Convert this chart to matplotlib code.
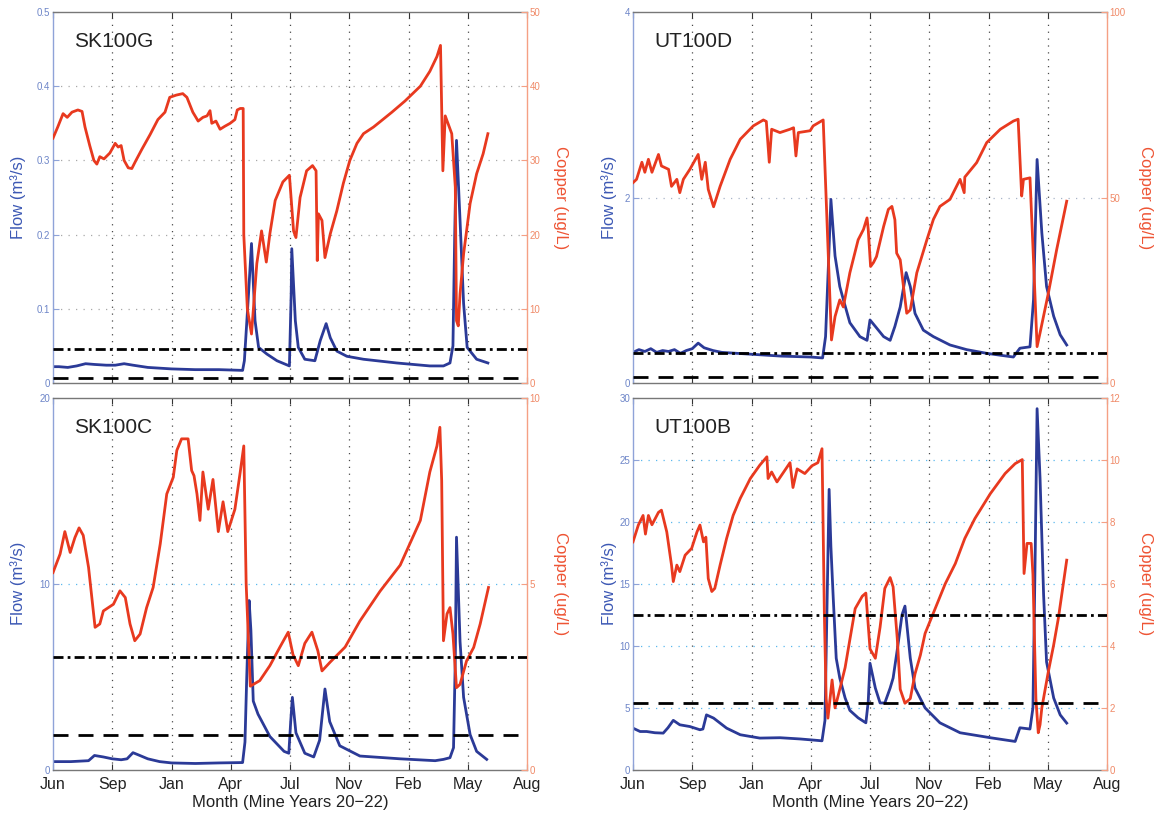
import matplotlib
matplotlib.use("Agg")
import matplotlib.pyplot as plt

plt.rcParams['font.family'] = ['Liberation Sans', 'DejaVu Sans']

# ---------------- data ----------------
month_labels = ['Jun', 'Sep', 'Jan', 'Apr', 'Jul', 'Nov', 'Feb', 'May', 'Aug']
month_pos = [0, 100, 200, 300, 400, 500, 600, 700, 800]

# SK100G
sk100g_flow_day = [0, 10, 25, 40, 55, 70, 90, 105, 120, 135, 160, 200, 240, 280, 320, 323, 330, 335, 341, 347,
                   361, 378, 399, 402, 403, 409, 414, 425, 442, 451, 461, 468, 479, 496, 524, 580, 636, 659, 670, 675,
                   678, 681, 687, 693, 699, 715, 734]
sk100g_flow = [0.022, 0.022, 0.021, 0.023, 0.026, 0.025, 0.024, 0.024, 0.026, 0.024, 0.021, 0.019, 0.018, 0.018,
               0.017, 0.03, 0.12, 0.188, 0.084, 0.048, 0.039, 0.030, 0.023, 0.12, 0.181, 0.084, 0.048, 0.032, 0.030,
               0.057, 0.080, 0.061, 0.043, 0.036, 0.032, 0.027, 0.023, 0.023, 0.027, 0.05, 0.2, 0.327, 0.219, 0.107,
               0.048, 0.032, 0.027]
sk100g_cu_day = [0, 8, 17, 24, 32, 42, 49, 54, 62, 69, 74, 79, 86, 96, 105, 110, 115, 120, 127, 133,
                 140, 150, 164, 177, 189, 197, 208, 219, 226, 236, 245, 253, 260, 265, 268, 275, 282, 290, 299, 307,
                 311, 316, 321, 322, 328, 335, 344, 352, 360, 366, 375, 388, 399, 406, 410, 417, 428, 438, 444, 446,
                 448, 454, 459, 468, 479, 490, 501, 513, 524, 541, 555, 572, 594, 620, 636, 648, 654, 658, 662, 673,
                 679, 681, 684, 687, 693, 704, 715, 726, 734]
sk100g_cu = [33, 34.5, 36.3, 35.8, 36.5, 36.8, 36.6, 34.5, 32, 30, 29.5, 30.5, 30.2, 31, 32.3, 31.8, 32, 30, 29, 28.9,
             30, 31.5, 33.5, 35.5, 36.5, 38.5, 38.8, 39, 38.5, 36.5, 35.3, 35.8, 36, 36.7, 35, 35.3, 34.2, 34.6, 35,
             35.5, 36.8, 37, 37, 20, 10, 6.6, 16.1, 20.5, 16.3, 20.1, 24.6, 27.1, 28, 20.5, 19.6, 25, 28.6, 29.3,
             28.6, 16.5, 22.8, 21.9, 16.9, 20.1, 23.2, 26.9, 30, 32.3, 33.6, 34.5, 35.4, 36.5, 38, 40, 42, 44, 45.5,
             28.6, 36, 33.6, 26.4, 8.4, 7.7, 12, 17.4, 24.2, 28.2, 30.9, 33.6]

# UT100D
ut100d_flow_day = [0, 10, 20, 30, 40, 50, 60, 70, 80, 90, 100, 110, 120, 135, 150, 200, 250, 300, 320, 325,
                   330, 334, 341, 349, 355, 366, 383, 395, 400, 409, 423, 434, 442, 451, 461, 468, 476, 490, 507, 535,
                   563, 597, 642, 653, 670, 676, 682, 690, 698, 710, 721, 732]
ut100d_flow = [0.33, 0.36, 0.34, 0.37, 0.33, 0.35, 0.34, 0.36, 0.32, 0.35, 0.37, 0.43, 0.38, 0.35, 0.33, 0.31, 0.29,
               0.28, 0.27, 0.5, 1.3, 1.98, 1.37, 1.04, 0.9, 0.65, 0.5, 0.46, 0.68, 0.61, 0.5, 0.46, 0.61, 0.82, 1.19,
               1.04, 0.75, 0.57, 0.5, 0.41, 0.36, 0.32, 0.28, 0.375, 0.39, 0.9, 2.41, 1.62, 1.04, 0.72, 0.52, 0.41]
ut100d_cu_day = [0, 6, 15, 20, 26, 32, 43, 48, 60, 65, 74, 79, 85, 96, 110, 116, 122, 127, 136, 147,
                 164, 181, 203, 220, 225, 230, 234, 248, 265, 271, 275, 279, 299, 304, 321, 335, 341, 349, 355, 366,
                 380, 389, 395, 397, 401, 406, 411, 423, 431, 437, 442, 445, 451, 462, 468, 479, 496, 507, 518, 535,
                 552, 559, 560, 580, 597, 620, 642, 650, 656, 659, 670, 675, 682, 687, 701, 715, 732]
ut100d_cu = [54, 54.9, 59.5, 56.8, 60.3, 56.8, 61.6, 58.5, 57.6, 53, 54.9, 51.3, 54.9, 57.6, 61.6, 54.9, 59.5, 52.2,
             47.5, 53, 60.3, 65.7, 69.3, 70.9, 70.5, 59.5, 68.4, 67.5, 68.4, 68.8, 61.2, 67.5, 68, 69.3, 70.9, 11.6,
             17.9, 22.4, 20.5, 29.7, 38.6, 41.4, 44.5, 41.4, 31.4, 32.5, 34.1, 42.2, 46.8, 47.6, 44, 35, 33.2, 18.8,
             19.7, 29.7, 38.6, 44.1, 47.6, 49.5, 54.9, 51.3, 55.5, 59.4, 64.8, 68.4, 70.6, 71.1, 50.4, 54.9, 55.3,
             36.8, 9.8, 13.5, 24.2, 35.9, 49]

# SK100C
sk100c_flow_day = [0, 30, 60, 70, 85, 100, 115, 125, 135, 145, 160, 180, 200, 240, 280, 320, 324, 327, 331, 334,
                   338, 346, 366, 390, 398, 401, 404, 410, 425, 440, 450, 459, 467, 484, 518, 586, 645, 659, 670, 676,
                   679, 681, 687, 693, 704, 715, 732]
sk100c_flow = [0.45, 0.45, 0.5, 0.78, 0.7, 0.6, 0.55, 0.6, 0.93, 0.8, 0.6, 0.45, 0.38, 0.35, 0.38, 0.4, 1.5, 5.0,
               9.1, 7.5, 3.7, 3.0, 1.8, 1.0, 0.9, 2.5, 3.9, 2.0, 0.9, 0.7, 1.6, 4.35, 2.6, 1.3, 0.75, 0.6, 0.5, 0.57,
               0.66, 1.2, 6.0, 12.5, 6.9, 3.9, 1.9, 1.0, 0.57]
sk100c_cu_day = [0, 12, 20, 29, 37, 44, 51, 60, 71, 79, 85, 102, 113, 122, 130, 138, 147, 158, 169, 181,
                 192, 203, 209, 217, 228, 234, 238, 243, 248, 253, 262, 270, 279, 287, 295, 307, 316, 322, 326, 333,
                 349, 366, 383, 397, 405, 414, 425, 437, 447, 454, 468, 493, 518, 552, 586, 620, 636, 648, 653, 656,
                 659, 665, 670, 675, 681, 687, 698, 710, 721, 735]
sk100c_cu = [5.3, 5.8, 6.4, 5.84, 6.24, 6.5, 6.3, 5.44, 3.83, 3.92, 4.27, 4.45, 4.81, 4.63, 3.92, 3.47, 3.65, 4.36,
             4.9, 6.07, 7.41, 7.86, 8.58, 8.89, 8.89, 8.04, 7.9, 7.41, 6.7, 8.0, 7.0, 7.8, 6.4, 7.2, 6.4, 7.0, 8.0,
             8.7, 5.0, 2.25, 2.4, 2.8, 3.3, 3.7, 3.1, 2.8, 3.4, 3.7, 3.2, 2.66, 2.9, 3.3, 4.0, 4.8, 5.5, 6.7, 8.0,
             8.7, 9.2, 7.77, 3.47, 4.19, 4.36, 3.65, 2.21, 2.3, 2.93, 3.29, 3.92, 4.9]

# UT100B
ut100b_flow_day = [0, 12, 23, 37, 51, 59, 68, 79, 96, 113, 118, 124, 136, 158, 181, 214, 248, 282, 307, 319,
                   324, 327, 331, 334, 338, 343, 349, 358, 366, 380, 393, 397, 400, 409, 417, 425, 434, 439, 447, 454,
                   459, 468, 476, 493, 518, 552, 603, 645, 653, 670, 675, 679, 682, 687, 693, 698, 710, 721, 732]
ut100b_flow = [3.37, 3.1, 3.1, 3.0, 2.97, 3.4, 4.0, 3.64, 3.5, 3.24, 3.3, 4.44, 4.18, 3.37, 2.84, 2.57, 2.6, 2.5,
               2.4, 2.35, 4, 12, 22.6, 18, 13.8, 9.0, 7.4, 5.8, 4.8, 4.2, 3.8, 5.5, 8.6, 6.6, 5.4, 5.4, 6.6, 7.4, 10,
               12.5, 13.2, 9.0, 6.6, 5.0, 3.8, 3.0, 2.6, 2.3, 3.4, 3.3, 5, 18, 29.1, 23.5, 14.1, 8.7, 5.8, 4.44, 3.78]
ut100b_cu_day = [0, 9, 17, 21, 26, 32, 43, 48, 57, 65, 68, 74, 79, 88, 99, 108, 113, 119, 123, 127,
                 133, 138, 147, 158, 169, 181, 198, 214, 226, 228, 234, 243, 265, 270, 277, 290, 302, 312, 319, 323,
                 326, 329, 336, 341, 349, 358, 366, 375, 387, 393, 400, 409, 417, 425, 434, 439, 446, 451, 459, 468,
                 476, 485, 493, 510, 527, 544, 560, 577, 603, 628, 645, 657, 660, 665, 672, 675, 680, 684, 687, 690,
                 701, 710, 718, 732]
ut100b_cu = [7.35, 7.89, 8.2, 7.6, 8.2, 7.9, 8.3, 8.37, 7.67, 6.6, 6.07, 6.6, 6.39, 6.92, 7.14, 7.67, 7.89, 7.35,
             7.5, 6.17, 5.75, 5.85, 6.6, 7.46, 8.2, 8.75, 9.39, 9.82, 10.09, 9.39, 9.6, 9.28, 9.9, 9.1, 9.7, 9.55,
             9.8, 9.9, 10.35, 5.0, 2.3, 1.67, 2.9, 2.0, 2.6, 3.3, 4.2, 5.2, 5.6, 5.7, 3.9, 3.6, 4.6, 5.85, 6.2, 5.9,
             4.24, 2.6, 2.15, 2.3, 3.1, 3.7, 4.4, 5.2, 6.0, 6.65, 7.46, 8.1, 8.9, 9.55, 9.87, 10.0, 6.33, 7.3, 7.3,
             6.3, 2.3, 1.2, 1.46, 2.0, 3.17, 4.03, 4.9, 6.76]

# guideline lines (copper units): dash-dot, dashed
sk100g_lines = [4.63, 0.63]
ut100d_lines = [8.0, 1.7]
sk100c_lines = [3.04, 0.94]
ut100b_lines = [5.0, 2.17]

# axis ticks
sk100g_fticks = [0, 0.1, 0.2, 0.3, 0.4, 0.5]
sk100g_flabels = ['0', '0.1', '0.2', '0.3', '0.4', '0.5']
sk100g_cticks = [0, 10, 20, 30, 40, 50]
ut100d_fticks = [0, 2, 4]
ut100d_cticks = [0, 50, 100]
sk100c_fticks = [0, 10, 20]
sk100c_cticks = [0, 5, 10]
ut100b_fticks = [0, 5, 10, 15, 20, 25, 30]
ut100b_cticks = [0, 2, 4, 6, 8, 10, 12]

# ---------------- styling ----------------
BLUE = '#2b3a97'
RED = '#e8391f'
AX_BLUE = '#8fa3d8'
TXT_BLUE = '#6d85c8'
LAB_BLUE = '#3c58b4'
AX_ORANGE = '#f5a084'
TXT_ORANGE = '#f08a68'
LAB_ORANGE = '#ee5434'

fig = plt.figure(figsize=(11.59, 8.17), dpi=100)

W = 474 / 1159
H = 371 / 817
LX = 53 / 1159
RX = 633 / 1159
TY = 1 - 383 / 817
BY = 1 - 770 / 817


def panel(rect, name, fday, flow, cday, cu, fticks, flabels, cticks, lines, hgrid_col, show_x,
          flow_lab_x, cu_lab_x):
    ax = fig.add_axes(rect)
    ax2 = ax.twinx()
    ax.set_xlim(0, 800)
    ax.set_ylim(fticks[0], fticks[-1])
    ax2.set_ylim(cticks[0], cticks[-1])

    for x in month_pos[1:-1]:
        ax.axvline(x, color='#4a4a4a', lw=0.9, ls=(0, (1, 4.5)), zorder=0)
    for y in fticks[1:-1]:
        ax.axhline(y, color=hgrid_col, lw=0.9, ls=(0, (1, 5)), zorder=0)

    ax.plot(fday, flow, color=BLUE, lw=2.0, zorder=2)
    ax2.plot(cday, cu, color=RED, lw=2.0, zorder=2)
    ax2.axhline(lines[0], color='black', lw=2.0, ls=(0, (3.6, 1.5, 1.0, 1.5)), zorder=3)
    ax2.axhline(lines[1], color='black', lw=2.0, ls=(0, (5.4, 3.6)), zorder=3)

    ax.set_xticks(month_pos)
    ax.set_xticklabels(month_labels if show_x else [])
    ax.tick_params(axis='x', direction='in', length=4, top=True, labelsize=11.5,
                   colors='#333333', labelcolor='#222222', pad=5, labelbottom=show_x)
    ax.set_yticks(fticks)
    ax.set_yticklabels(flabels)
    ax.tick_params(axis='y', direction='in', length=4, labelsize=7, colors=AX_BLUE,
                   labelcolor=TXT_BLUE, pad=2)
    ax2.set_yticks(cticks)
    ax2.set_yticklabels([str(c) for c in cticks])
    ax2.tick_params(axis='y', direction='in', length=4, labelsize=7, colors=AX_ORANGE,
                    labelcolor=TXT_ORANGE, pad=2)

    for s in ['top', 'bottom']:
        ax.spines[s].set_color('#777777')
        ax2.spines[s].set_visible(False)
    ax.spines['left'].set_color(AX_BLUE)
    ax.spines['right'].set_visible(False)
    ax2.spines['left'].set_visible(False)
    ax2.spines['right'].set_color(AX_ORANGE)
    for s in ax.spines.values():
        s.set_linewidth(1.0)
    ax2.spines['right'].set_linewidth(1.0)

    ax.text(0.045, 0.92, name, transform=ax.transAxes, fontsize=15, color='#222222',
            ha='left', va='center', zorder=5)
    ax.text(flow_lab_x, 0.5, 'Flow (m³/s)', transform=ax.transAxes, rotation=90,
            ha='center', va='center', fontsize=12, color=LAB_BLUE)
    ax.text(cu_lab_x, 0.5, 'Copper (ug/L)', transform=ax.transAxes, rotation=-90,
            ha='center', va='center', fontsize=12, color=LAB_ORANGE)
    if show_x:
        ax.text(0.5, -0.087, 'Month (Mine Years 20\u221222)', transform=ax.transAxes,
                ha='center', va='center', fontsize=12, color='#222222')
    return ax, ax2


panel([LX, TY, W, H], 'SK100G', sk100g_flow_day, sk100g_flow, sk100g_cu_day, sk100g_cu,
      sk100g_fticks, sk100g_flabels, sk100g_cticks, sk100g_lines, '#a8a8a8', False, -0.074, 1.07)
panel([RX, TY, W, H], 'UT100D', ut100d_flow_day, ut100d_flow, ut100d_cu_day, ut100d_cu,
      ut100d_fticks, [str(v) for v in ut100d_fticks], ut100d_cticks, ut100d_lines, '#a8b4c8', False,
      -0.05, 1.082)
panel([LX, BY, W, 372.5 / 817], 'SK100C', sk100c_flow_day, sk100c_flow, sk100c_cu_day, sk100c_cu,
      sk100c_fticks, [str(v) for v in sk100c_fticks], sk100c_cticks, sk100c_lines, '#5ab8ee', True,
      -0.074, 1.07)
panel([RX, BY, W, 372.5 / 817], 'UT100B', ut100b_flow_day, ut100b_flow, ut100b_cu_day, ut100b_cu,
      ut100b_fticks, [str(v) for v in ut100b_fticks], ut100b_cticks, ut100b_lines, '#5ab8ee', True,
      -0.05, 1.082)

fig.savefig('out.png', dpi=100, facecolor='white')
